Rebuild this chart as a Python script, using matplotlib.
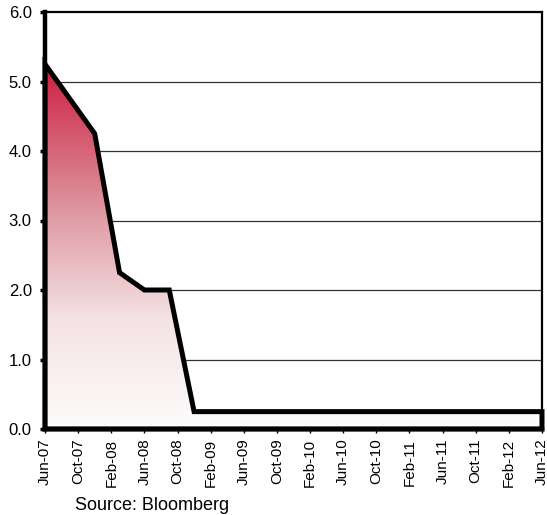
import numpy as np
import matplotlib
matplotlib.use("Agg")
import matplotlib.pyplot as plt
from matplotlib.patches import Polygon
from matplotlib.colors import LinearSegmentedColormap

plt.rcParams['font.family'] = ['Liberation Sans', 'DejaVu Sans']

# Quarterly Fed funds target rate, Jun-07 .. Jun-12
quarters = ["Jun-07", "Sep-07", "Dec-07", "Mar-08", "Jun-08", "Sep-08", "Dec-08",
            "Mar-09", "Jun-09", "Sep-09", "Dec-09", "Mar-10", "Jun-10", "Sep-10",
            "Dec-10", "Mar-11", "Jun-11", "Sep-11", "Dec-11", "Mar-12", "Jun-12"]
rates = [5.25, 4.75, 4.25, 2.25, 2.00, 2.00, 0.25,
         0.25, 0.25, 0.25, 0.25, 0.25, 0.25, 0.25,
         0.25, 0.25, 0.25, 0.25, 0.25, 0.25, 0.25]
tick_labels = ["Jun-07", "Oct-07", "Feb-08", "Jun-08", "Oct-08", "Feb-09", "Jun-09",
               "Oct-09", "Feb-10", "Jun-10", "Oct-10", "Feb-11", "Jun-11", "Oct-11",
               "Feb-12", "Jun-12"]
y_ticks = [0.0, 1.0, 2.0, 3.0, 4.0, 5.0, 6.0]

x = np.arange(len(quarters)) * 3  # months since Jun-07
y = np.array(rates)

fig = plt.figure(figsize=(5.47, 5.15), dpi=100)
ax = fig.add_axes([45/547, 86/515, 497/547, 417/515])
ax.set_xlim(0, 60)
ax.set_ylim(0, 6)

# gridlines
for v in y_ticks[1:-1]:
    ax.axhline(v, color='#333333', lw=0.9, zorder=1)

# gradient fill
verts = [(x[0], 0)] + list(zip(x, y)) + [(x[-1], 0)]
poly = Polygon(verts, closed=True, facecolor='none', edgecolor='none')
ax.add_patch(poly)
cmap = LinearSegmentedColormap.from_list(
    'g', [(0.0, '#fefcfc'), (0.3, '#f4e2e4'), (0.6, '#de97a1'), (1.0, '#cc1e3f')])
grad = np.linspace(0, 1, 256).reshape(-1, 1)
im = ax.imshow(grad, extent=[0, 60, 0, max(rates)], origin='lower', aspect='auto',
               cmap=cmap, zorder=2)
im.set_clip_path(poly)

outline = Polygon(verts, closed=True, facecolor='none', edgecolor='black', lw=3.6,
                  joinstyle='miter', zorder=4, clip_on=False)
ax.add_patch(outline)

ax.set_xticks(np.arange(0, 61, 4))
ax.set_xticklabels(tick_labels, rotation=90, fontsize=11)
ax.set_yticks(y_ticks)
ax.set_yticklabels([f"{v:.1f}" for v in y_ticks], fontsize=12)
ax.tick_params(axis='x', length=3, width=1, pad=4, colors='black')
ax.tick_params(axis='y', length=3.5, width=2.5, pad=6, colors='black')

for s in ['top', 'right']:
    ax.spines[s].set_linewidth(1.6)
for s in ['left', 'bottom']:
    ax.spines[s].set_linewidth(3.2)
for s in ax.spines.values():
    s.set_zorder(5)

fig.text(75/547, 1 - 505/515, "Source: Bloomberg", fontsize=13, va='center', ha='left')

fig.savefig("out.png", dpi=100, facecolor='white')
